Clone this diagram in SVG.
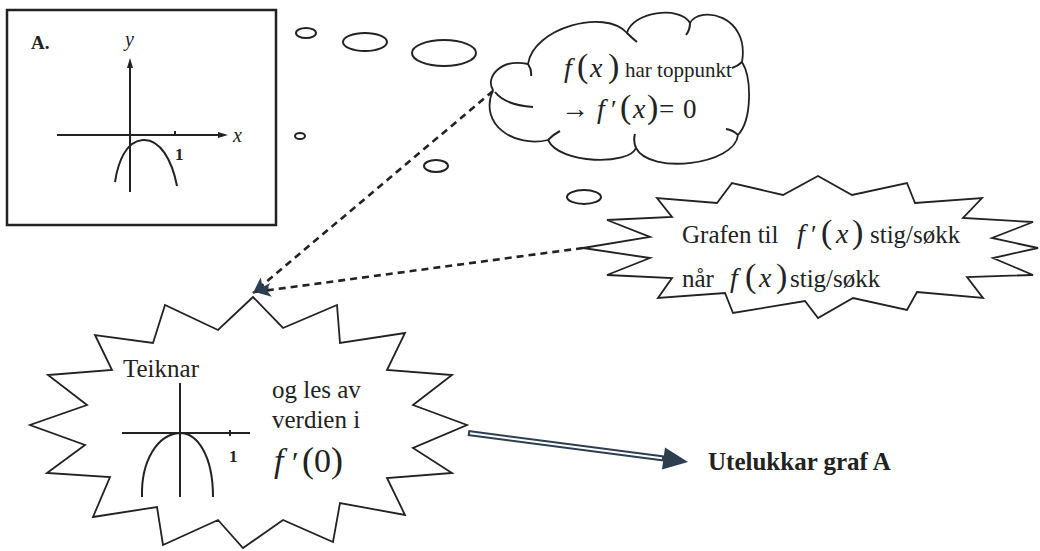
<svg xmlns="http://www.w3.org/2000/svg" width="1040" height="551" viewBox="0 0 1040 551">
<style>
.ln{fill:none;stroke:#222;stroke-width:2;stroke-linejoin:miter}
.shape{fill:#fff;stroke:#222;stroke-width:1.8;stroke-linejoin:miter}
.t{font-family:'Liberation Serif','DejaVu Serif',serif;fill:#222}
.mi{font-style:italic}
.dash{fill:none;stroke:#222;stroke-width:2.6;stroke-dasharray:7 5}
</style>
<defs>
<marker id="ah" viewBox="0 0 16 14" refX="16" refY="7" markerWidth="16" markerHeight="14" markerUnits="userSpaceOnUse" orient="auto">
<path d="M0,0 L16,7 L0,14 L4,7 z" fill="#2c3e50"/>
</marker>
</defs>
<rect width="1040" height="551" fill="#fff"/>

<g id="node-graphA">
<rect x="7" y="10" width="269" height="215" fill="#fff" stroke="#222" stroke-width="2.5"/>
<text class="t" x="31" y="49" font-size="19" font-weight="bold">A.</text>
<text class="t mi" x="125" y="46" font-size="20">y</text>
<line class="ln" x1="130" y1="192" x2="130" y2="66"/>
<polygon points="130,58 127,68 133,68" fill="#222"/>
<line class="ln" x1="57" y1="135" x2="219" y2="135"/>
<polygon points="228,135 218,132 218,138" fill="#222"/>
<text class="t mi" x="233" y="142" font-size="20">x</text>
<line class="ln" x1="175" y1="131" x2="175" y2="136"/>
<text class="t" x="175" y="160" font-size="17" font-weight="bold">1</text>
<path class="ln" d="M115,182 C118,162 126,141 143,140 C160,139 172,160 177,186"/>
</g>

<g id="node-thought-bubbles">
<ellipse class="ln" cx="306" cy="33" rx="10" ry="5"/>
<ellipse class="ln" cx="365" cy="42" rx="22" ry="9"/>
<ellipse class="ln" cx="444" cy="53" rx="32" ry="13"/>
<ellipse class="ln" cx="300" cy="136" rx="5" ry="3"/>
<ellipse class="ln" cx="436" cy="166" rx="12" ry="6"/>
<ellipse class="ln" cx="584" cy="197" rx="17" ry="7"/>
</g>

<g id="node-cloud">
<path class="shape" stroke-width="2" d="M493,90 C485,78 500,58 528,64 C533,28 605,8 627,33 C632,12 680,5 690,23 C700,5 750,15 742,62 C752,78 752,120 738,135 C735,165 650,175 636,148 C630,165 560,165 548,140 C515,148 478,125 493,90 Z"/>
<path class="ln" d="M495,92 Q505,105 533,107 M528,64 Q532,70 531,76 M627,33 Q632,38 637,42 M690,23 Q690,30 686,35 M742,62 Q738,66 732,68 M738,135 Q733,130 726,129 M636,148 Q633,141 635,134 M548,140 Q554,134 560,131"/>
<text class="t" y="77"><tspan class="mi" x="564" font-size="28">f</tspan><tspan x="577" font-size="34">(</tspan><tspan class="mi" x="590" font-size="28">x</tspan><tspan x="608" font-size="34">)</tspan><tspan x="625" font-size="21">har toppunkt</tspan></text>
<text class="t" y="118"><tspan x="561" font-size="28">→</tspan><tspan class="mi" x="597" font-size="28">f</tspan><tspan x="611" font-size="26">′</tspan><tspan x="620" font-size="34">(</tspan><tspan class="mi" x="633" font-size="28">x</tspan><tspan x="647" font-size="34">)</tspan><tspan x="659" font-size="27">=</tspan><tspan x="683" font-size="27">0</tspan></text>
</g>

<g id="node-star-rule">
<polygon class="shape" points="583,248 650,237 607,220 672,217 657,198 717,203 732,183 783,195 818,176 852,195 907,183 915,203 982,198 963,218 1033,222 992,238 1038,248 993,258 1033,275 967,277 983,298 917,292 907,310 853,298 818,318 805,301 733,313 725,293 658,298 672,278 607,275 650,258"/>
<text class="t" y="243"><tspan x="682" font-size="25">Grafen til</tspan><tspan class="mi" x="797" font-size="28">f</tspan><tspan x="811" font-size="26">′</tspan><tspan x="821" font-size="34">(</tspan><tspan class="mi" x="836" font-size="28">x</tspan><tspan x="852" font-size="34">)</tspan><tspan x="870" font-size="25">stig/søkk</tspan></text>
<text class="t" y="287"><tspan x="682" font-size="25">når</tspan><tspan class="mi" x="730" font-size="28">f</tspan><tspan x="745" font-size="34">(</tspan><tspan class="mi" x="759" font-size="28">x</tspan><tspan x="776" font-size="34">)</tspan><tspan x="790" font-size="25">stig/søkk</tspan></text>
</g>

<g id="node-star-draw">
<polygon class="shape" points="253,297 218,330 165,305 153,343 95,335 112,370 48,375 87,405 30,425 85,445 47,473 110,477 93,517 157,507 163,545 218,520 243,548 283,520 333,542 340,503 405,515 387,478 452,473 413,448 467,425 413,405 452,375 387,370 405,333 340,343 337,305 283,328"/>
<text class="t" x="123" y="377" font-size="25">Teiknar</text>
<line class="ln" x1="122" y1="433" x2="250" y2="433"/>
<line class="ln" x1="180" y1="383" x2="180" y2="497"/>
<line class="ln" x1="230" y1="430" x2="230" y2="436"/>
<text class="t" x="229" y="462" font-size="17" font-weight="bold">1</text>
<path class="ln" d="M142,497 C141,460 158,434 180,433 C197,433 213,455 213,497" stroke-width="2.2"/>
<text class="t" x="272" y="398" font-size="25">og les av</text>
<text class="t" x="272" y="428" font-size="25">verdien i</text>
<text class="t" y="472"><tspan class="mi" x="274" font-size="34">f</tspan><tspan x="292" font-size="30">′</tspan><tspan x="302" font-size="36">(</tspan><tspan x="314" font-size="34">0</tspan><tspan x="331" font-size="36">)</tspan></text>
</g>

<g id="node-result">
<text class="t" x="708" y="470" font-size="25" font-weight="bold">Utelukkar graf A</text>
</g>

<g id="connectors">
<line class="dash" x1="493" y1="91" x2="253" y2="293" marker-end="url(#ah)"/>
<line class="dash" x1="583" y1="248" x2="255" y2="292" marker-end="url(#ah)"/>
<line x1="468" y1="433" x2="664" y2="458.5" stroke="#2c3e50" stroke-width="6"/>
<line x1="470" y1="433.3" x2="662" y2="458.2" stroke="#fff" stroke-width="2"/>
<polygon points="688,462 662,469.5 665,447.5" fill="#2c3e50"/>
</g>
</svg>
